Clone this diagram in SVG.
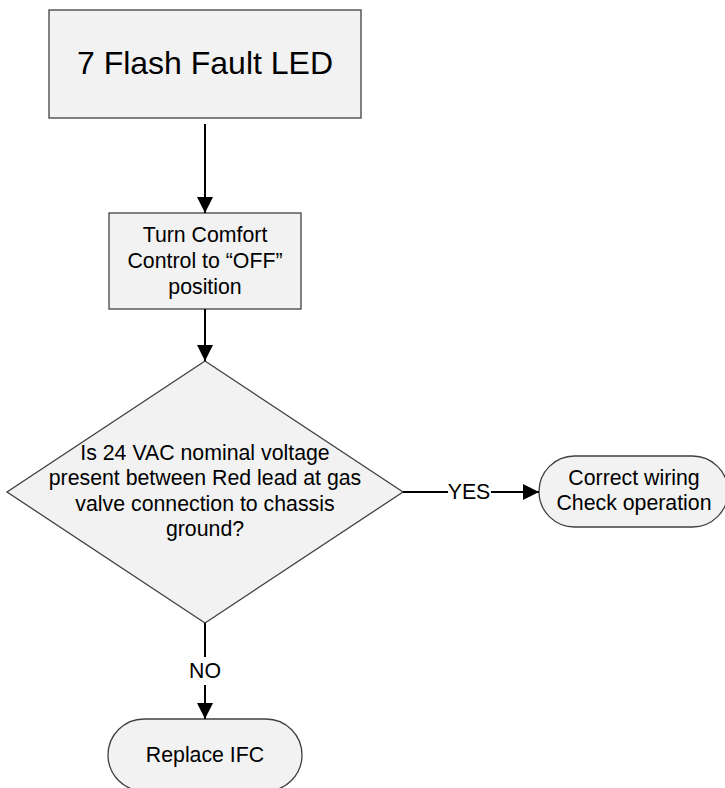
<svg xmlns="http://www.w3.org/2000/svg" width="725" height="788" viewBox="0 0 725 788">
<style>
.shape{fill:#f2f2f2;stroke:#404040;stroke-width:1.3}
.t{font-family:"Liberation Sans",Arial,sans-serif;font-size:21.3px;fill:#000;text-anchor:middle}
.c{stroke:#000;stroke-width:2;fill:none}
</style>
<defs>
<marker id="ah" markerWidth="16" markerHeight="16" viewBox="0 0 16 16" refX="16" refY="8" orient="auto" markerUnits="userSpaceOnUse">
<path d="M0,0 L16,8 L0,16 Z" fill="#000"/>
</marker>
</defs>
<rect width="725" height="788" fill="#fff"/>
<g id="n1">
<rect class="shape" x="49" y="10" width="312" height="108"/>
<text class="t" x="205" y="74" style="font-size:32px">7 Flash Fault LED</text>
</g>
<g id="n2">
<rect class="shape" x="109" y="213" width="192" height="96"/>
<text class="t" x="205" y="242">Turn Comfort</text>
<text class="t" x="205" y="268">Control to “OFF”</text>
<text class="t" x="205" y="294">position</text>
</g>
<g id="n3">
<polygon class="shape" points="205,361 403,492 205,623 7,492"/>
<text class="t" x="205" y="460">Is 24 VAC nominal voltage</text>
<text class="t" x="205" y="485">present between Red lead at gas</text>
<text class="t" x="205" y="511">valve connection to chassis</text>
<text class="t" x="205" y="536">ground?</text>
</g>
<g id="n4">
<rect class="shape" x="539" y="456" width="189" height="71" rx="35.5" ry="35.5"/>
<text class="t" x="634" y="485">Correct wiring</text>
<text class="t" x="634" y="510">Check operation</text>
</g>
<g id="n5">
<rect class="shape" x="108" y="719" width="194" height="72" rx="36" ry="36"/>
<text class="t" x="205" y="762">Replace IFC</text>
</g>
<g id="connectors">
<line class="c" x1="205" y1="124" x2="205" y2="213" marker-end="url(#ah)"/>
<line class="c" x1="205" y1="309" x2="205" y2="361" marker-end="url(#ah)"/>
<line class="c" x1="403" y1="492" x2="448" y2="492"/>
<line class="c" x1="491" y1="492" x2="539" y2="492" marker-end="url(#ah)"/>
<text class="t" x="469" y="499">YES</text>
<line class="c" x1="205" y1="623" x2="205" y2="657"/>
<line class="c" x1="205" y1="685" x2="205" y2="719" marker-end="url(#ah)"/>
<text class="t" x="205" y="678">NO</text>
</g>
</svg>
